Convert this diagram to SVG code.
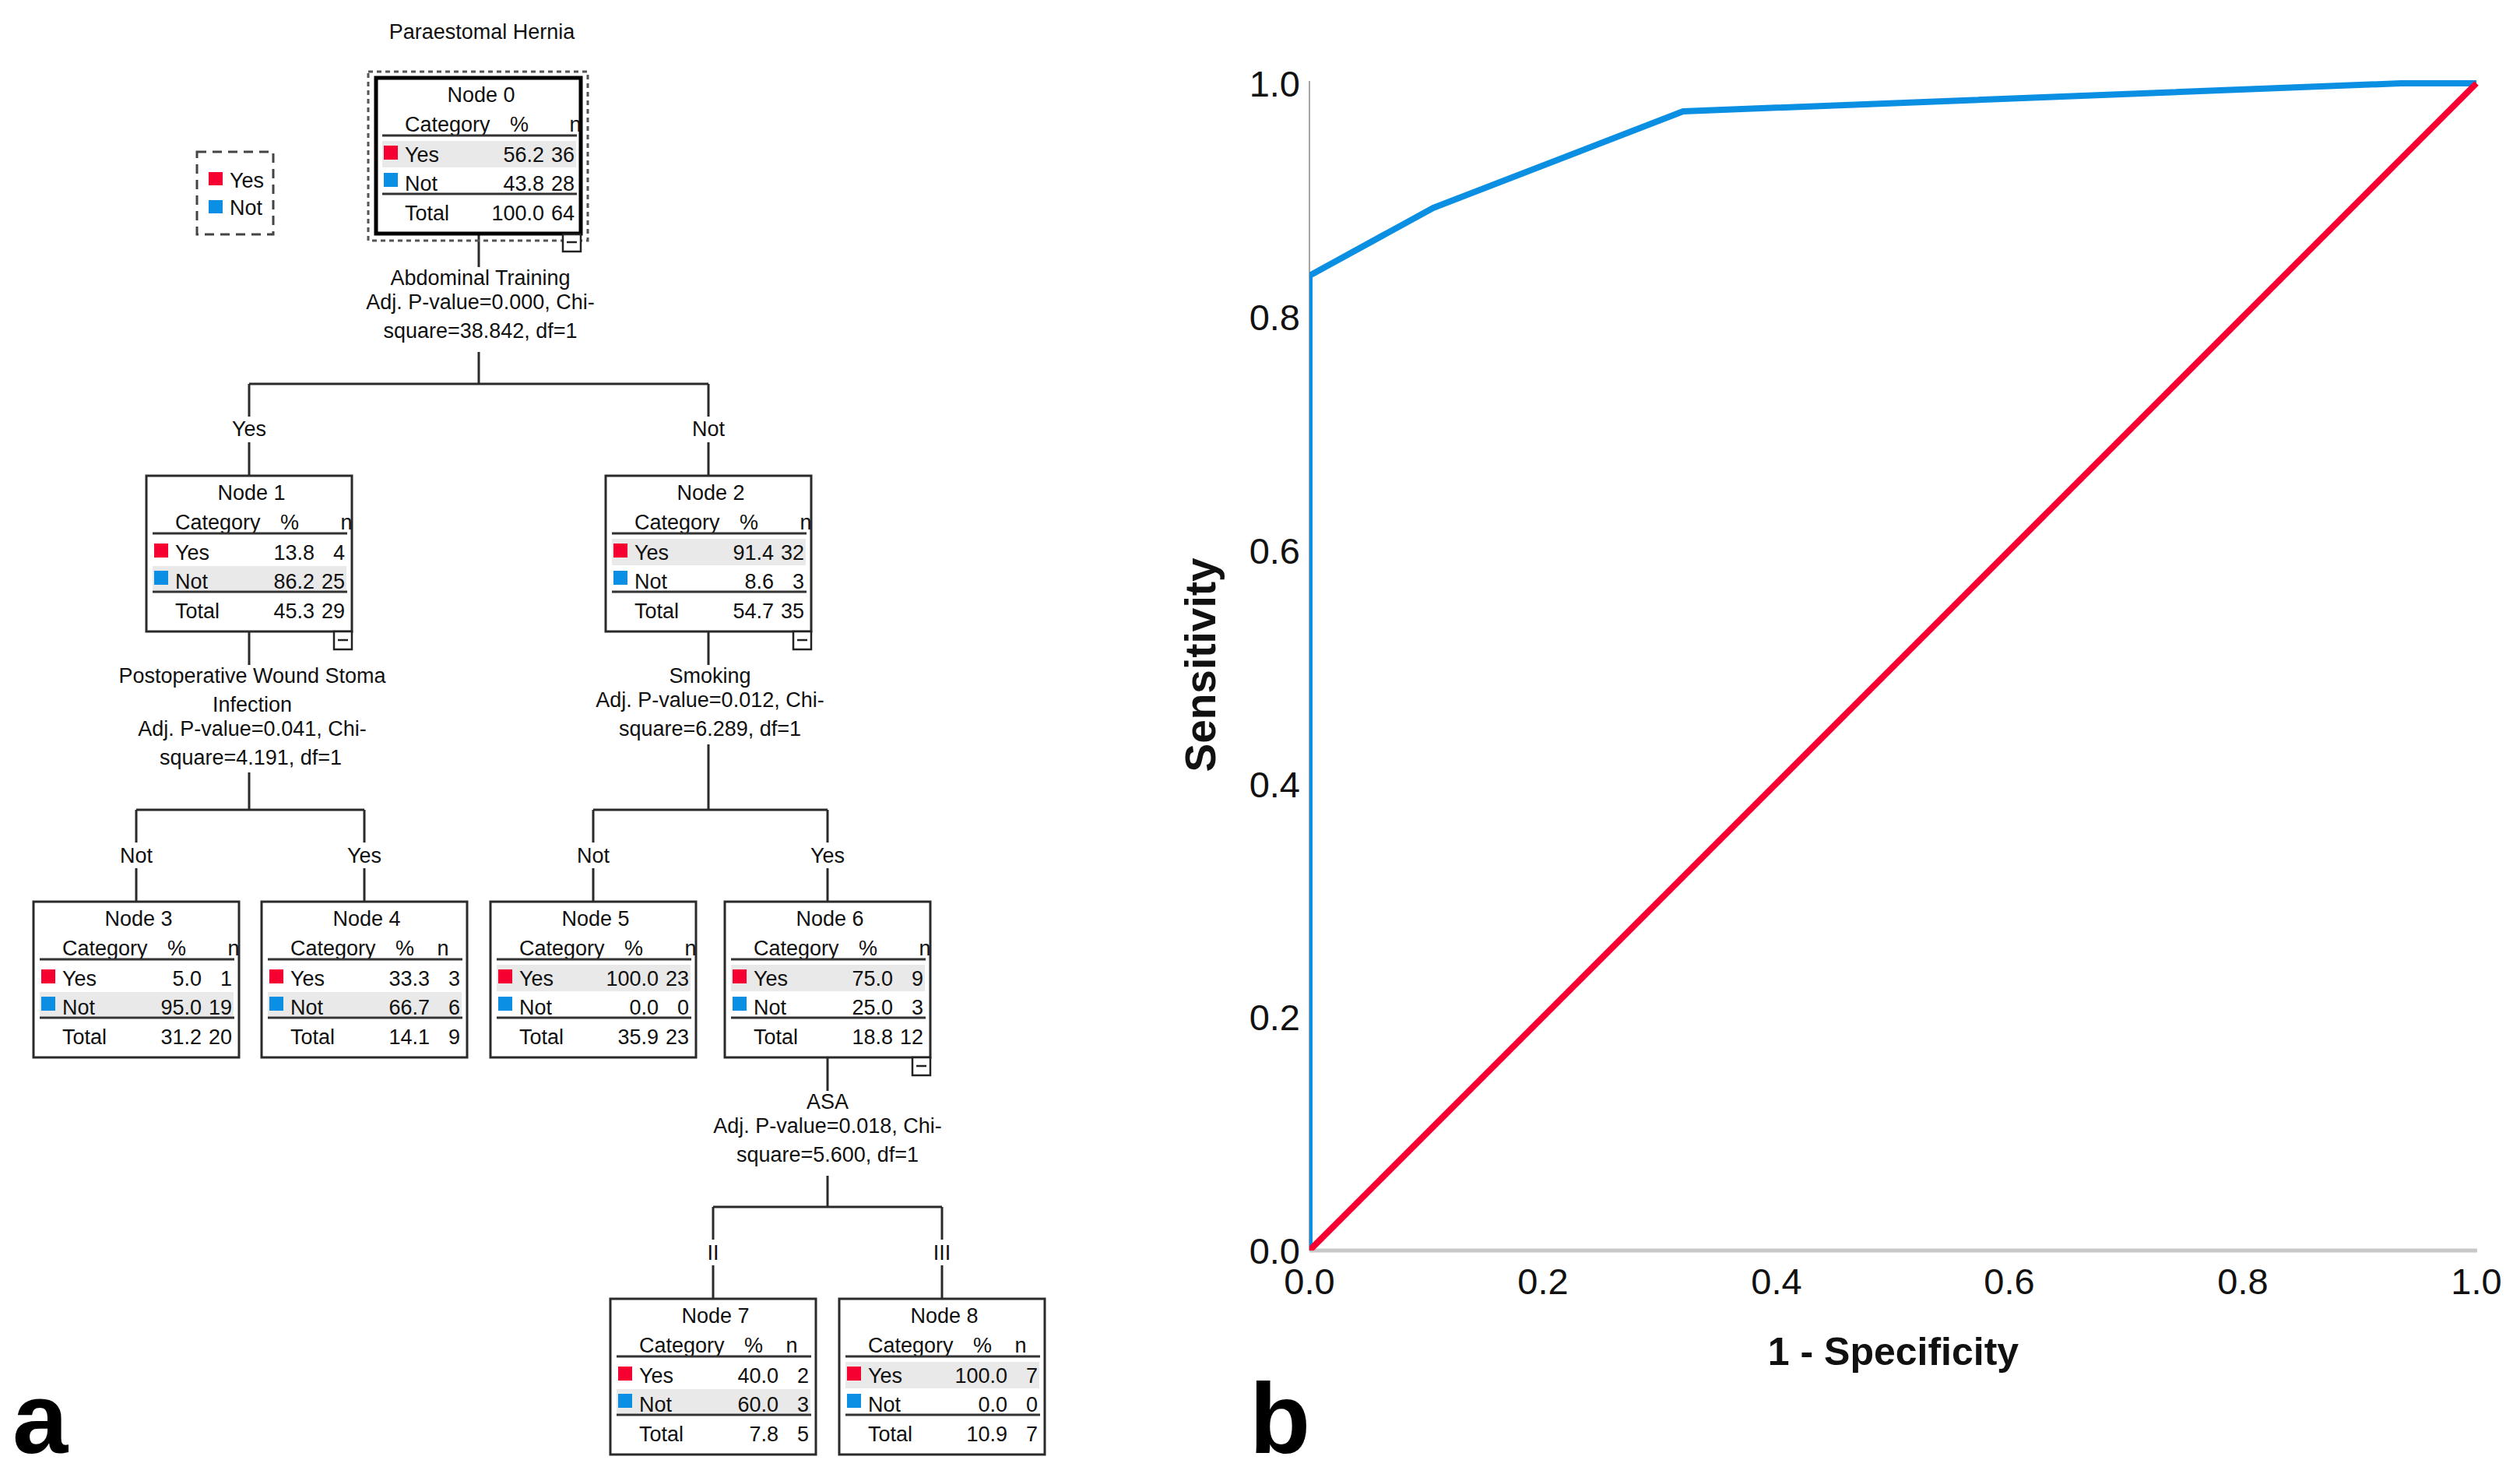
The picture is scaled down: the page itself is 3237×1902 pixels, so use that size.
<svg xmlns="http://www.w3.org/2000/svg" width="3237" height="1902" viewBox="0 0 3237 1902">
<style>
text{font-family:"Liberation Sans",Arial,sans-serif;fill:#111}
.t{font-size:27px}
.m{text-anchor:middle}
.e{text-anchor:end}
.box{fill:#fff;stroke:#2a2a2a;stroke-width:3}
.box0{fill:#fff;stroke:#000;stroke-width:5}
.band{fill:#e9e9e9}
.rule{stroke:#333;stroke-width:3}
.yes{fill:#f50031}
.no{fill:#0a8fe4}
.mbox{fill:#fff;stroke:#222;stroke-width:2.5}
.mdash{stroke:#222;stroke-width:2.5}
.con line{stroke:#2a2a2a;stroke-width:3}
.tick{font-size:47px}
.axt{font-size:50px;font-weight:bold}
.pl{font-size:128px;font-weight:bold;fill:#000}
</style>
<defs>
<clipPath id="plot"><rect x="1682" y="60" width="1540" height="1546"/></clipPath>
</defs>
<rect width="3237" height="1902" fill="#fff"/>

<text class="t m" x="619" y="50">Paraestomal Hernia</text>

<g id="legend">
<rect x="253" y="195" width="98" height="106" fill="none" stroke="#444" stroke-width="3" stroke-dasharray="12 8"/>
<rect class="yes" x="268" y="221" width="18" height="17"/>
<text class="t" x="295" y="241">Yes</text>
<rect class="no" x="268" y="257" width="18" height="17"/>
<text class="t" x="295" y="276">Not</text>
</g>

<g id="connectors" class="con">
<line x1="615" y1="300" x2="615" y2="343"/>
<line x1="615" y1="452" x2="615" y2="493"/>
<line x1="320" y1="493" x2="910" y2="493"/>
<line x1="320" y1="493" x2="320" y2="535"/>
<line x1="320" y1="568" x2="320" y2="611"/>
<line x1="910" y1="493" x2="910" y2="535"/>
<line x1="910" y1="568" x2="910" y2="611"/>

<line x1="320" y1="811" x2="320" y2="854"/>
<line x1="320" y1="992" x2="320" y2="1040"/>
<line x1="175" y1="1040" x2="468" y2="1040"/>
<line x1="175" y1="1040" x2="175" y2="1082"/>
<line x1="175" y1="1115" x2="175" y2="1158"/>
<line x1="468" y1="1040" x2="468" y2="1082"/>
<line x1="468" y1="1115" x2="468" y2="1158"/>

<line x1="910" y1="811" x2="910" y2="854"/>
<line x1="910" y1="956" x2="910" y2="1040"/>
<line x1="762" y1="1040" x2="1063" y2="1040"/>
<line x1="762" y1="1040" x2="762" y2="1082"/>
<line x1="762" y1="1115" x2="762" y2="1158"/>
<line x1="1063" y1="1040" x2="1063" y2="1082"/>
<line x1="1063" y1="1115" x2="1063" y2="1158"/>

<line x1="1063" y1="1358" x2="1063" y2="1401"/>
<line x1="1063" y1="1510" x2="1063" y2="1550"/>
<line x1="916" y1="1550" x2="1210" y2="1550"/>
<line x1="916" y1="1550" x2="916" y2="1592"/>
<line x1="916" y1="1625" x2="916" y2="1668"/>
<line x1="1210" y1="1550" x2="1210" y2="1592"/>
<line x1="1210" y1="1625" x2="1210" y2="1668"/>

<text class="t m" x="617" y="366">Abdominal Training</text>
<text class="t m" x="617" y="397">Adj. P-value=0.000, Chi-</text>
<text class="t m" x="617" y="434">square=38.842, df=1</text>
<text class="t m" x="320" y="560">Yes</text>
<text class="t m" x="910" y="560">Not</text>

<text class="t m" x="324" y="877">Postoperative Wound Stoma</text>
<text class="t m" x="324" y="914">Infection</text>
<text class="t m" x="324" y="945">Adj. P-value=0.041, Chi-</text>
<text class="t m" x="322" y="982">square=4.191, df=1</text>
<text class="t m" x="175" y="1108">Not</text>
<text class="t m" x="468" y="1108">Yes</text>

<text class="t m" x="912" y="877">Smoking</text>
<text class="t m" x="912" y="908">Adj. P-value=0.012, Chi-</text>
<text class="t m" x="912" y="945">square=6.289, df=1</text>
<text class="t m" x="762" y="1108">Not</text>
<text class="t m" x="1063" y="1108">Yes</text>

<text class="t m" x="1063" y="1424">ASA</text>
<text class="t m" x="1063" y="1455">Adj. P-value=0.018, Chi-</text>
<text class="t m" x="1063" y="1492">square=5.600, df=1</text>
<text class="t m" x="916" y="1618">II</text>
<text class="t m" x="1210" y="1618">III</text>
</g>

<g id="node0" transform="translate(483,100)">
<rect x="-10" y="-8" width="282" height="217" fill="none" stroke="#555" stroke-width="3" stroke-dasharray="6 5"/>
<rect class="box0" x="0" y="0" width="263" height="200"/>
<rect class="band" x="8" y="81" width="249" height="34"/>
<text class="t m" x="135" y="31">Node 0</text>
<text class="t" x="37" y="69">Category</text><text class="t m" x="184" y="69">%</text><text class="t m" x="256" y="69">n</text>
<line class="rule" x1="8" y1="74" x2="258" y2="74"/>
<rect class="yes" x="10" y="87" width="18" height="18"/>
<text class="t" x="37" y="108">Yes</text><text class="t e" x="216" y="108">56.2</text><text class="t e" x="255" y="108">36</text>
<rect class="no" x="10" y="122" width="18" height="18"/>
<text class="t" x="37" y="145">Not</text><text class="t e" x="216" y="145">43.8</text><text class="t e" x="255" y="145">28</text>
<line class="rule" x1="8" y1="149" x2="258" y2="149"/>
<text class="t" x="37" y="183">Total</text><text class="t e" x="216" y="183">100.0</text><text class="t e" x="255" y="183">64</text>
<rect class="mbox" x="240" y="201" width="23" height="22"/><line class="mdash" x1="245" y1="211" x2="258" y2="211"/>
</g>

<g id="node1" transform="translate(188,611)">
<rect class="box" x="0" y="0" width="264" height="200"/>
<rect class="band" x="8" y="116" width="249" height="31"/>
<text class="t m" x="135" y="31">Node 1</text>
<text class="t" x="37" y="69">Category</text><text class="t m" x="184" y="69">%</text><text class="t m" x="257" y="69">n</text>
<line class="rule" x1="8" y1="74" x2="258" y2="74"/>
<rect class="yes" x="10" y="87" width="18" height="18"/>
<text class="t" x="37" y="108">Yes</text><text class="t e" x="216" y="108">13.8</text><text class="t e" x="255" y="108">4</text>
<rect class="no" x="10" y="122" width="18" height="18"/>
<text class="t" x="37" y="145">Not</text><text class="t e" x="216" y="145">86.2</text><text class="t e" x="255" y="145">25</text>
<line class="rule" x1="8" y1="149" x2="258" y2="149"/>
<text class="t" x="37" y="183">Total</text><text class="t e" x="216" y="183">45.3</text><text class="t e" x="255" y="183">29</text>
<rect class="mbox" x="241" y="200" width="23" height="23"/><line class="mdash" x1="246" y1="211" x2="259" y2="211"/>
</g>

<g id="node2" transform="translate(778,611)">
<rect class="box" x="0" y="0" width="264" height="200"/>
<rect class="band" x="8" y="81" width="249" height="34"/>
<text class="t m" x="135" y="31">Node 2</text>
<text class="t" x="37" y="69">Category</text><text class="t m" x="184" y="69">%</text><text class="t m" x="257" y="69">n</text>
<line class="rule" x1="8" y1="74" x2="258" y2="74"/>
<rect class="yes" x="10" y="87" width="18" height="18"/>
<text class="t" x="37" y="108">Yes</text><text class="t e" x="216" y="108">91.4</text><text class="t e" x="255" y="108">32</text>
<rect class="no" x="10" y="122" width="18" height="18"/>
<text class="t" x="37" y="145">Not</text><text class="t e" x="216" y="145">8.6</text><text class="t e" x="255" y="145">3</text>
<line class="rule" x1="8" y1="149" x2="258" y2="149"/>
<text class="t" x="37" y="183">Total</text><text class="t e" x="216" y="183">54.7</text><text class="t e" x="255" y="183">35</text>
<rect class="mbox" x="241" y="200" width="23" height="23"/><line class="mdash" x1="246" y1="211" x2="259" y2="211"/>
</g>

<g id="node3" transform="translate(43,1158)">
<rect class="box" x="0" y="0" width="264" height="200"/>
<rect class="band" x="8" y="116" width="249" height="31"/>
<text class="t m" x="135" y="31">Node 3</text>
<text class="t" x="37" y="69">Category</text><text class="t m" x="184" y="69">%</text><text class="t m" x="257" y="69">n</text>
<line class="rule" x1="8" y1="74" x2="258" y2="74"/>
<rect class="yes" x="10" y="87" width="18" height="18"/>
<text class="t" x="37" y="108">Yes</text><text class="t e" x="216" y="108">5.0</text><text class="t e" x="255" y="108">1</text>
<rect class="no" x="10" y="122" width="18" height="18"/>
<text class="t" x="37" y="145">Not</text><text class="t e" x="216" y="145">95.0</text><text class="t e" x="255" y="145">19</text>
<line class="rule" x1="8" y1="149" x2="258" y2="149"/>
<text class="t" x="37" y="183">Total</text><text class="t e" x="216" y="183">31.2</text><text class="t e" x="255" y="183">20</text>
</g>

<g id="node4" transform="translate(336,1158)">
<rect class="box" x="0" y="0" width="264" height="200"/>
<rect class="band" x="8" y="116" width="249" height="31"/>
<text class="t m" x="135" y="31">Node 4</text>
<text class="t" x="37" y="69">Category</text><text class="t m" x="184" y="69">%</text><text class="t m" x="233" y="69">n</text>
<line class="rule" x1="8" y1="74" x2="258" y2="74"/>
<rect class="yes" x="10" y="87" width="18" height="18"/>
<text class="t" x="37" y="108">Yes</text><text class="t e" x="216" y="108">33.3</text><text class="t e" x="255" y="108">3</text>
<rect class="no" x="10" y="122" width="18" height="18"/>
<text class="t" x="37" y="145">Not</text><text class="t e" x="216" y="145">66.7</text><text class="t e" x="255" y="145">6</text>
<line class="rule" x1="8" y1="149" x2="258" y2="149"/>
<text class="t" x="37" y="183">Total</text><text class="t e" x="216" y="183">14.1</text><text class="t e" x="255" y="183">9</text>
</g>

<g id="node5" transform="translate(630,1158)">
<rect class="box" x="0" y="0" width="264" height="200"/>
<rect class="band" x="8" y="81" width="249" height="34"/>
<text class="t m" x="135" y="31">Node 5</text>
<text class="t" x="37" y="69">Category</text><text class="t m" x="184" y="69">%</text><text class="t m" x="257" y="69">n</text>
<line class="rule" x1="8" y1="74" x2="258" y2="74"/>
<rect class="yes" x="10" y="87" width="18" height="18"/>
<text class="t" x="37" y="108">Yes</text><text class="t e" x="216" y="108">100.0</text><text class="t e" x="255" y="108">23</text>
<rect class="no" x="10" y="122" width="18" height="18"/>
<text class="t" x="37" y="145">Not</text><text class="t e" x="216" y="145">0.0</text><text class="t e" x="255" y="145">0</text>
<line class="rule" x1="8" y1="149" x2="258" y2="149"/>
<text class="t" x="37" y="183">Total</text><text class="t e" x="216" y="183">35.9</text><text class="t e" x="255" y="183">23</text>
</g>

<g id="node6" transform="translate(931,1158)">
<rect class="box" x="0" y="0" width="264" height="200"/>
<rect class="band" x="8" y="81" width="249" height="34"/>
<text class="t m" x="135" y="31">Node 6</text>
<text class="t" x="37" y="69">Category</text><text class="t m" x="184" y="69">%</text><text class="t m" x="257" y="69">n</text>
<line class="rule" x1="8" y1="74" x2="258" y2="74"/>
<rect class="yes" x="10" y="87" width="18" height="18"/>
<text class="t" x="37" y="108">Yes</text><text class="t e" x="216" y="108">75.0</text><text class="t e" x="255" y="108">9</text>
<rect class="no" x="10" y="122" width="18" height="18"/>
<text class="t" x="37" y="145">Not</text><text class="t e" x="216" y="145">25.0</text><text class="t e" x="255" y="145">3</text>
<line class="rule" x1="8" y1="149" x2="258" y2="149"/>
<text class="t" x="37" y="183">Total</text><text class="t e" x="216" y="183">18.8</text><text class="t e" x="255" y="183">12</text>
<rect class="mbox" x="241" y="200" width="23" height="23"/><line class="mdash" x1="246" y1="211" x2="259" y2="211"/>
</g>

<g id="node7" transform="translate(784,1668)">
<rect class="box" x="0" y="0" width="264" height="200"/>
<rect class="band" x="8" y="116" width="249" height="31"/>
<text class="t m" x="135" y="31">Node 7</text>
<text class="t" x="37" y="69">Category</text><text class="t m" x="184" y="69">%</text><text class="t m" x="233" y="69">n</text>
<line class="rule" x1="8" y1="74" x2="258" y2="74"/>
<rect class="yes" x="10" y="87" width="18" height="18"/>
<text class="t" x="37" y="108">Yes</text><text class="t e" x="216" y="108">40.0</text><text class="t e" x="255" y="108">2</text>
<rect class="no" x="10" y="122" width="18" height="18"/>
<text class="t" x="37" y="145">Not</text><text class="t e" x="216" y="145">60.0</text><text class="t e" x="255" y="145">3</text>
<line class="rule" x1="8" y1="149" x2="258" y2="149"/>
<text class="t" x="37" y="183">Total</text><text class="t e" x="216" y="183">7.8</text><text class="t e" x="255" y="183">5</text>
</g>

<g id="node8" transform="translate(1078,1668)">
<rect class="box" x="0" y="0" width="264" height="200"/>
<rect class="band" x="8" y="81" width="249" height="34"/>
<text class="t m" x="135" y="31">Node 8</text>
<text class="t" x="37" y="69">Category</text><text class="t m" x="184" y="69">%</text><text class="t m" x="233" y="69">n</text>
<line class="rule" x1="8" y1="74" x2="258" y2="74"/>
<rect class="yes" x="10" y="87" width="18" height="18"/>
<text class="t" x="37" y="108">Yes</text><text class="t e" x="216" y="108">100.0</text><text class="t e" x="255" y="108">7</text>
<rect class="no" x="10" y="122" width="18" height="18"/>
<text class="t" x="37" y="145">Not</text><text class="t e" x="216" y="145">0.0</text><text class="t e" x="255" y="145">0</text>
<line class="rule" x1="8" y1="149" x2="258" y2="149"/>
<text class="t" x="37" y="183">Total</text><text class="t e" x="216" y="183">10.9</text><text class="t e" x="255" y="183">7</text>
</g>

<text class="pl" x="16" y="1866">a</text>

<g id="roc">
<line x1="1682" y1="104" x2="1682" y2="1606" stroke="#a6a6a6" stroke-width="2"/>
<line x1="1682" y1="1606" x2="3182" y2="1606" stroke="#c8c8c8" stroke-width="5"/>
<g clip-path="url(#plot)">
<polyline points="1682,1606 1682,354 1841,267 2162,143 3084,107 3181,107" fill="none" stroke="#0b8fe3" stroke-width="8" stroke-linejoin="round"/>
<line x1="1682" y1="1606" x2="3181" y2="107" stroke="#f80032" stroke-width="8"/>
</g>
<text class="tick e" x="1670" y="124">1.0</text>
<text class="tick e" x="1670" y="424">0.8</text>
<text class="tick e" x="1670" y="724">0.6</text>
<text class="tick e" x="1670" y="1024">0.4</text>
<text class="tick e" x="1670" y="1323">0.2</text>
<text class="tick e" x="1670" y="1623">0.0</text>
<text class="tick m" x="1682" y="1662">0.0</text>
<text class="tick m" x="1982" y="1662">0.2</text>
<text class="tick m" x="2282" y="1662">0.4</text>
<text class="tick m" x="2581" y="1662">0.6</text>
<text class="tick m" x="2881" y="1662">0.8</text>
<text class="tick m" x="3181" y="1662">1.0</text>
<text class="axt m" x="2432" y="1753">1 - Specificity</text>
<text class="axt m" style="font-size:55px" transform="translate(1561,854) rotate(-90)">Sensitivity</text>
</g>

<text class="pl" x="1605" y="1866">b</text>
</svg>
